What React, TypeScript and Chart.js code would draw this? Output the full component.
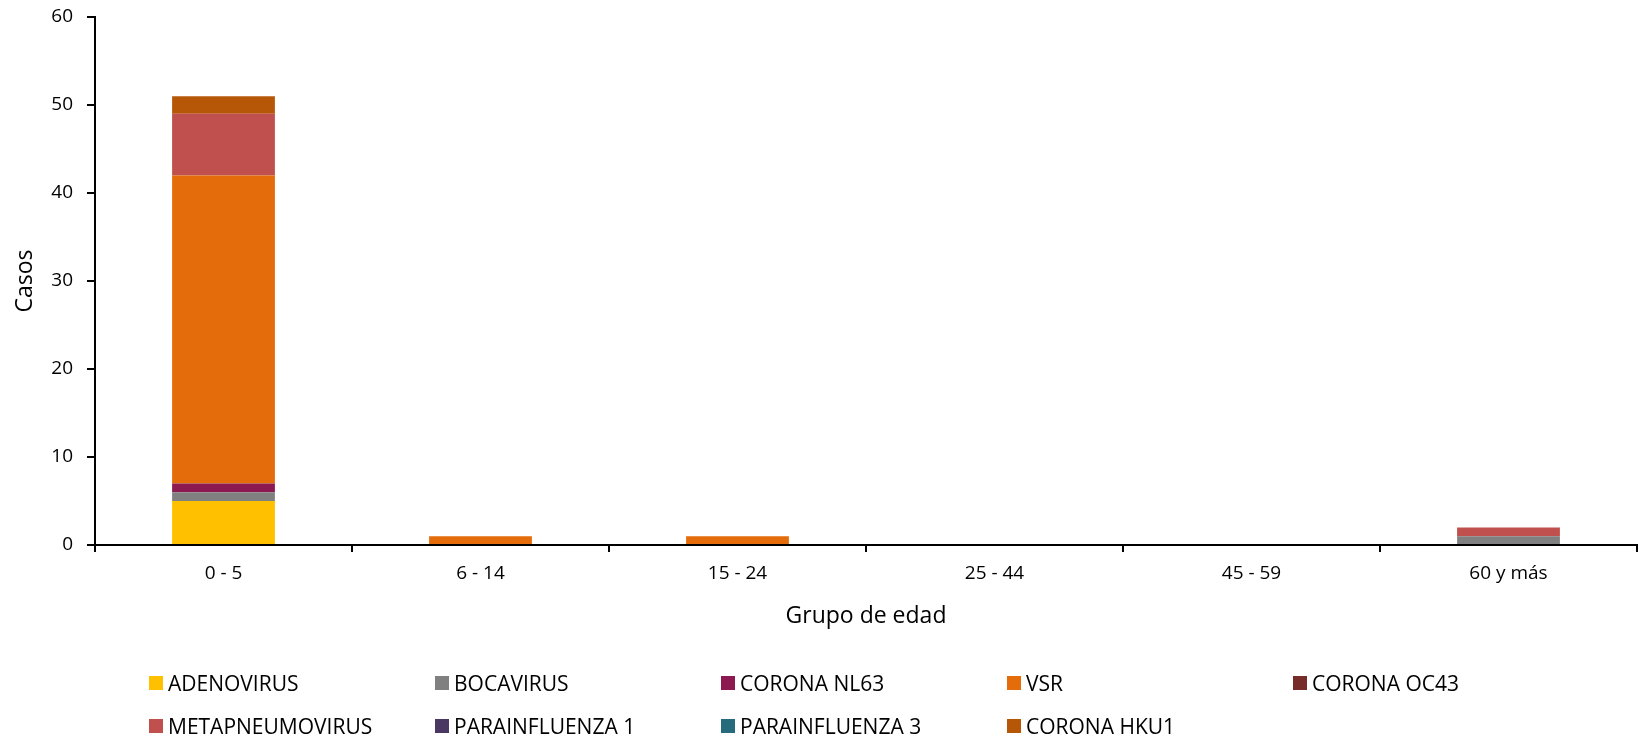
import React, { useEffect, useRef } from "react";
import { Chart, registerables } from "chart.js";

Chart.register(...registerables);

const categories = ["0 - 5", "6 - 14", "15 - 24", "25 - 44", "45 - 59", "60 y más"];
const seriesNames = [
  "ADENOVIRUS",
  "BOCAVIRUS",
  "CORONA NL63",
  "VSR",
  "CORONA OC43",
  "METAPNEUMOVIRUS",
  "PARAINFLUENZA 1",
  "PARAINFLUENZA 3",
  "CORONA HKU1",
];
const adenovirus = [5, 0, 0, 0, 0, 0];
const bocavirus = [1, 0, 0, 0, 0, 1];
const coronaNL63 = [1, 0, 0, 0, 0, 0];
const vsr = [35, 1, 1, 0, 0, 0];
const coronaOC43 = [0, 0, 0, 0, 0, 0];
const metapneumovirus = [7, 0, 0, 0, 0, 1];
const parainfluenza1 = [0, 0, 0, 0, 0, 0];
const parainfluenza3 = [0, 0, 0, 0, 0, 0];
const coronaHKU1 = [2, 0, 0, 0, 0, 0];
const seriesValues = [
  adenovirus,
  bocavirus,
  coronaNL63,
  vsr,
  coronaOC43,
  metapneumovirus,
  parainfluenza1,
  parainfluenza3,
  coronaHKU1,
];
const seriesColors = [
  "#FFC000",
  "#808080",
  "#8C1A50",
  "#E46C0A",
  "#772C2A",
  "#C0504D",
  "#4B3862",
  "#276A7C",
  "#B65708",
];
const yTicks = [0, 10, 20, 30, 40, 50, 60];

const FONT = "'Open Sans', 'Noto Sans', sans-serif";

export default function App() {
  const ref = useRef<HTMLCanvasElement | null>(null);
  useEffect(() => {
    if (!ref.current) return;
    const chart = new Chart(ref.current, {
      type: "bar",
      data: {
        labels: categories,
        datasets: seriesNames.map((name, i) => ({
          label: name,
          data: seriesValues[i],
          backgroundColor: seriesColors[i],
          borderWidth: 0,
          categoryPercentage: 0.4,
          barPercentage: 1,
        })),
      },
      options: {
        animation: false,
        responsive: false,
        maintainAspectRatio: false,
        layout: { padding: { top: 17, right: 8, left: 8, bottom: 0 } },
        plugins: { legend: { display: false }, tooltip: { enabled: false } },
        scales: {
          x: {
            stacked: true,
            afterFit: (s: any) => {
              s.height = 87;
            },
            grid: {
              offset: true,
              drawOnChartArea: false,
              drawTicks: true,
              tickLength: 7,
              lineWidth: 2,
              color: "#000",
            },
            border: { color: "#000", width: 2 },
            ticks: { color: "#000", font: { family: FONT, size: 19 }, padding: 10 },
            title: {
              display: true,
              text: "Grupo de edad",
              color: "#000",
              font: { family: FONT, size: 23 },
              padding: { top: 4, bottom: 2 },
            },
          },
          y: {
            stacked: true,
            min: 0,
            max: 60,
            afterFit: (s: any) => {
              s.width = 87;
              s.paddingTop = 0;
              s.paddingBottom = 0;
            },
            afterBuildTicks: (s: any) => {
              s.ticks = yTicks.map((v) => ({ value: v }));
            },
            grid: {
              drawOnChartArea: false,
              drawTicks: true,
              tickLength: 8,
              lineWidth: 2,
              color: "#000",
            },
            border: { color: "#000", width: 2 },
            ticks: {
              color: "#000",
              font: { family: FONT, size: 19, lineHeight: 1 },
              padding: 14,
            },
            title: {
              display: true,
              text: "Casos",
              color: "#000",
              font: { family: FONT, size: 23 },
            },
          },
        },
      },
    });
    return () => chart.destroy();
  }, []);

  return (
    <div
      style={{
        position: "fixed",
        left: 0,
        top: 0,
        width: 1645,
        height: 738,
        background: "#fff",
        fontFamily: FONT,
      }}
    >
      <canvas ref={ref} width={1645} height={632} style={{ display: "block" }} />
      <div
        style={{
          position: "absolute",
          left: 149,
          top: 668,
          display: "grid",
          gridTemplateColumns: "repeat(5, 286px)",
          rowGap: 13,
        }}
      >
        {seriesNames.map((name, i) => (
          <div
            key={name}
            style={{
              display: "flex",
              alignItems: "center",
              height: 30,
              fontSize: 21,
              color: "#000",
              whiteSpace: "nowrap",
            }}
          >
            <span
              style={{
                display: "inline-block",
                width: 14,
                height: 14,
                background: seriesColors[i],
                marginRight: 5,
                flex: "none",
              }}
            />
            {name}
          </div>
        ))}
      </div>
    </div>
  );
}
